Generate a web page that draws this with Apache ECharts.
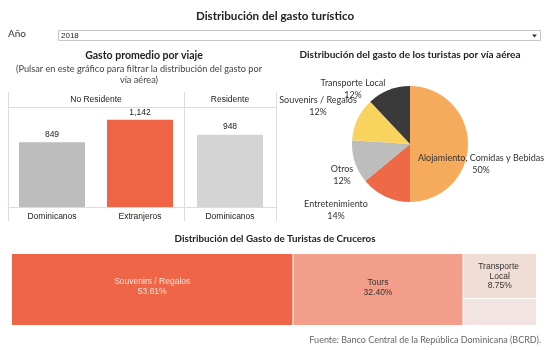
<!DOCTYPE html>
<html>
<head>
<meta charset="utf-8">
<script src="https://cdn.jsdelivr.net/npm/echarts@6/dist/echarts.min.js"></script>
<style>
  html, body { margin: 0; padding: 0; background: #fff; }
  #chart { width: 551px; height: 350px; }
</style>
</head>
<body>
<div id="chart"></div>
<script>
// gasto promedio por viaje
const noResCats = ['Dominicanos', 'Extranjeros'];
const noResVals = [849, 1142];
const resCats = ['Dominicanos'];
const resVals = [948];

// gasto por vía aérea (%)
const pieNames = ['Alojamiento, Comidas y Bebidas', 'Entretenimiento', 'Otros', 'Souvenirs / Regalos', 'Transporte Local'];
const pieVals = [50, 14, 12, 12, 12];

// cruceros (%)
const cruceroNames = ['Souvenirs / Regalos', 'Tours', 'Transporte Local', 'Otros'];
const cruceroVals = [53.61, 32.40, 8.75, 5.24];

const pieColors = ['#f6aa5c', '#ee6a47', '#bdbdbd', '#f8d45f', '#3a3a3a'];
const pieLabelPos = [[481, 164], [336, 210], [342, 175], [318, 106], [353, 89]];
const tableau = 'Lato, "Noto Sans", sans-serif';
const arial = '"Liberation Sans", Arial, sans-serif';

const chart = echarts.init(document.getElementById('chart'));

const titleStyle = (size) => ({
  fontFamily: tableau, fontSize: size, fontWeight: 'bold', color: '#222'
});

chart.setOption({
  animation: false,
  title: [
    { text: 'Distribución del gasto turístico', left: 275, top: 10, textAlign: 'center', padding: 0, textStyle: titleStyle(11.6) },
    { text: 'Gasto promedio por viaje', left: 144, top: 50, textAlign: 'center', padding: 0, textStyle: titleStyle(10.5) },
    {
      text: '(Pulsar en este gráfico para filtrar la distribución del gasto por\nvía aérea)',
      left: 139, top: 63, textAlign: 'center', padding: 0,
      textStyle: { fontFamily: tableau, fontSize: 9.2, color: '#444', lineHeight: 11.5, fontWeight: 'normal' }
    },
    { text: 'Distribución del gasto de los turistas por vía aérea', left: 410, top: 50, textAlign: 'center', padding: 0, textStyle: titleStyle(10) },
    { text: 'Distribución del Gasto de Turistas de Cruceros', left: 275, top: 234, textAlign: 'center', padding: 0, textStyle: titleStyle(9.8) },
    {
      text: 'Fuente: Banco Central de la República Dominicana (BCRD).',
      right: 10, top: 336, padding: 0,
      textStyle: { fontFamily: tableau, fontSize: 9, color: '#666', fontWeight: 'normal' }
    }
  ],
  grid: [
    { left: 8, top: 107, width: 176, height: 100 },
    { left: 184, top: 107, width: 92, height: 100 }
  ],
  xAxis: [0, 1].map((i) => ({
    gridIndex: i,
    type: 'category',
    data: i === 0 ? noResCats : resCats,
    axisTick: { show: false },
    axisLine: { lineStyle: { color: '#dcdcdc' } },
    axisLabel: { color: '#222', fontSize: 8.5, fontFamily: arial, margin: 5 }
  })),
  yAxis: [0, 1].map((i) => ({
    gridIndex: i, type: 'value', min: 0, max: 1310, show: false
  })),
  graphic: [
    // selector de año
    { type: 'text', left: 8, top: 29, style: { text: 'Año', fontFamily: tableau, fontSize: 10, fill: '#333' } },
    { type: 'rect', shape: { x: 58.5, y: 30.5, width: 482, height: 10 }, style: { fill: '#fff', stroke: '#c6c6c6', lineWidth: 1 } },
    { type: 'text', left: 61, top: 31.5, style: { text: '2018', fontFamily: arial, fontSize: 8, fill: '#222' } },
    { type: 'polygon', shape: { points: [[532, 34.5], [537, 34.5], [534.5, 37.5]] }, style: { fill: '#333' } },
    // marco del panel de barras
    { type: 'line', shape: { x1: 8.5, y1: 92, x2: 8.5, y2: 221 }, style: { stroke: '#dcdcdc', lineWidth: 1 } },
    { type: 'line', shape: { x1: 184.5, y1: 92, x2: 184.5, y2: 221 }, style: { stroke: '#dcdcdc', lineWidth: 1 } },
    { type: 'line', shape: { x1: 276.5, y1: 92, x2: 276.5, y2: 221 }, style: { stroke: '#dcdcdc', lineWidth: 1 } },
    { type: 'line', shape: { x1: 8, y1: 107.5, x2: 277, y2: 107.5 }, style: { stroke: '#dcdcdc', lineWidth: 1 } },
    { type: 'text', x: 96, y: 99.5, style: { text: 'No Residente', fontFamily: arial, fontSize: 8.5, fill: '#222', align: 'center', verticalAlign: 'middle' } },
    { type: 'text', x: 230, y: 99.5, style: { text: 'Residente', fontFamily: arial, fontSize: 8.5, fill: '#222', align: 'center', verticalAlign: 'middle' } }
  ],
  series: [
    {
      type: 'bar', xAxisIndex: 0, yAxisIndex: 0, barWidth: 66,
      data: noResVals.map((v, i) => ({ value: v, itemStyle: { color: i === 0 ? '#bdbdbd' : '#ef6444' } })),
      label: {
        show: true, position: 'top', distance: 3, color: '#222', fontSize: 8.5, fontFamily: arial,
        formatter: (p) => p.value.toLocaleString('en-US')
      }
    },
    {
      type: 'bar', xAxisIndex: 1, yAxisIndex: 1, barWidth: 66,
      data: resVals, itemStyle: { color: '#d4d4d4' },
      label: {
        show: true, position: 'top', distance: 3, color: '#222', fontSize: 8.5, fontFamily: arial,
        formatter: (p) => p.value.toLocaleString('en-US')
      }
    },
    {
      type: 'pie', center: [410, 144], radius: 58, startAngle: 90, clockwise: true,
      data: pieNames.map((n, i) => ({ name: n, value: pieVals[i], itemStyle: { color: pieColors[i] } })),
      label: {
        show: true, position: 'inside', overflow: 'none', color: '#333', fontFamily: tableau, fontSize: 9, lineHeight: 12.5, align: 'center',
        formatter: (p) => p.name + '\n' + Math.round(p.percent) + '%'
      },
      labelLine: { show: false },
      labelLayout: (p) => ({
        x: pieLabelPos[p.dataIndex][0], y: pieLabelPos[p.dataIndex][1], align: 'center', verticalAlign: 'middle'
      })
    },
    {
      type: 'treemap', left: 12, top: 254, width: 524, height: 71,
      roam: false, nodeClick: false, breadcrumb: { show: false },
      levels: [
        { itemStyle: { borderWidth: 0, gapWidth: 1, borderColor: '#fff' } },
        { itemStyle: { borderWidth: 0, gapWidth: 1, borderColor: '#fff' } }
      ],
      label: {
        show: true, position: 'inside', fontFamily: arial, fontSize: 8.5, lineHeight: 9.5, color: '#333',
        formatter: (p) => p.name + '\n' + p.value.toFixed(2) + '%'
      },
      data: [
        { name: cruceroNames[0], value: cruceroVals[0], itemStyle: { color: '#ee6647' }, label: { color: '#fde3da', offset: [0, -3] } },
        { name: cruceroNames[1], value: cruceroVals[1], itemStyle: { color: '#f29e8a' }, label: { offset: [0, -2] } },
        {
          name: 'Resto', itemStyle: { color: '#fff' },
          children: [
            {
              name: cruceroNames[2], value: cruceroVals[2], itemStyle: { color: '#f0ddd6' },
              label: { position: 'insideTop', distance: 3, overflow: 'break' }
            },
            { name: cruceroNames[3], value: cruceroVals[3], itemStyle: { color: '#f1e4e2' }, label: { show: false } }
          ]
        }
      ]
    }
  ]
});
</script>
</body>
</html>
